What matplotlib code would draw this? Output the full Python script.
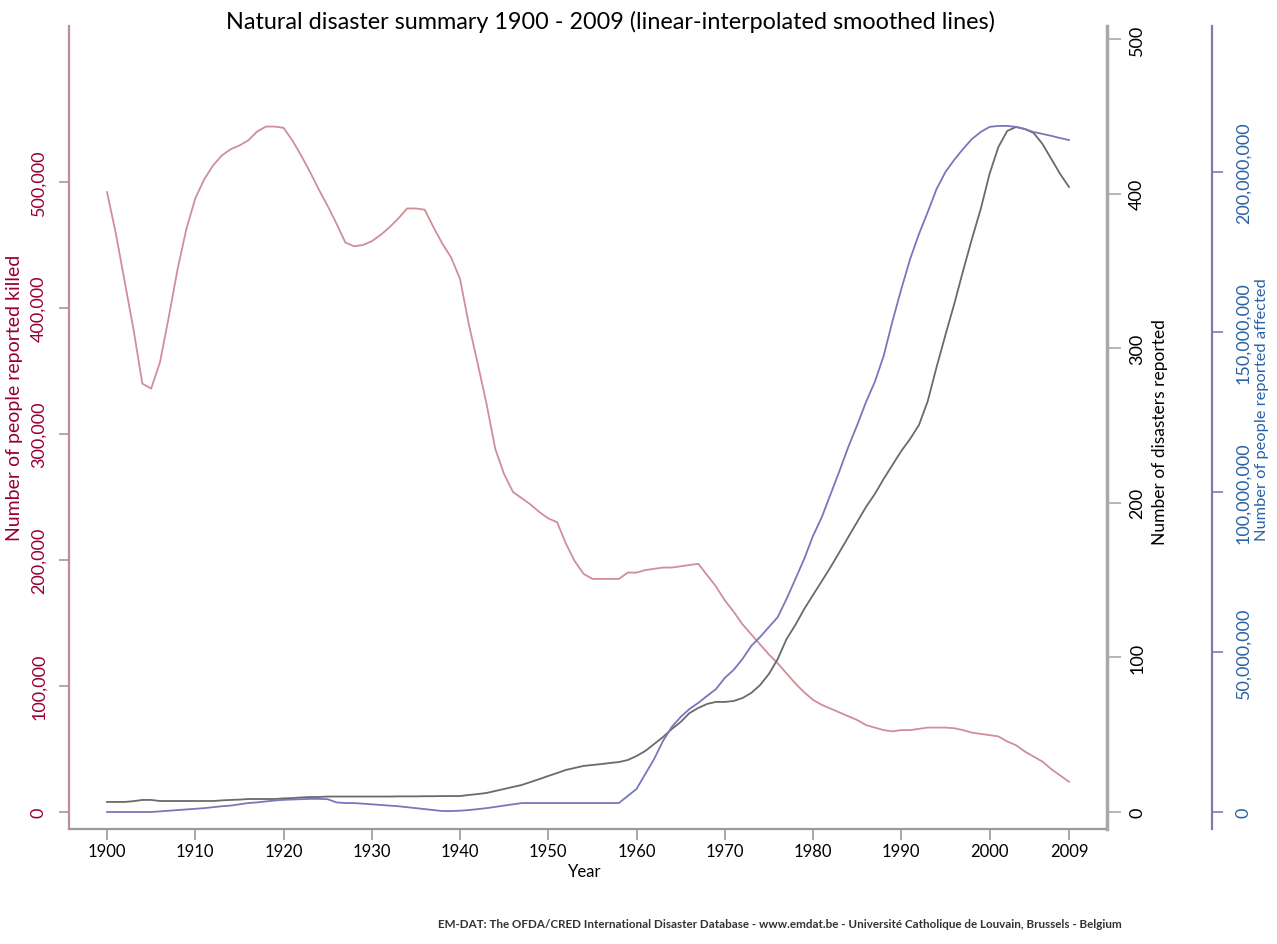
import matplotlib
matplotlib.use("Agg")
import matplotlib.pyplot as plt
from matplotlib.ticker import FuncFormatter, FixedLocator

plt.rcParams['font.family'] = ['Lato', 'DejaVu Sans']

# ---------------- data ----------------
years = list(range(1900, 2010))

killed = [
    492000, 459000, 421000, 383000, 340000, 336000, 357000, 393000, 431000, 463000,   # 1900-1909
    487000, 502000, 513000, 521000, 526000, 529000, 533000, 540000, 544000, 544000,   # 1910-1919
    543000, 533000, 521000, 508000, 494000, 481000, 467000, 452000, 449000, 450000,   # 1920-1929
    453000, 458000, 464000, 471000, 479000, 479000, 478000, 464000, 451000, 440000,   # 1930-1939
    423000, 387000, 356000, 324000, 288000, 268000, 254000, 249000, 244000, 238000,   # 1940-1949
    233000, 230000, 213000, 199000, 189000, 185000, 185000, 185000, 185000, 190000,   # 1950-1959
    190000, 192000, 193000, 194000, 194000, 195000, 196000, 197000, 188000, 179000,   # 1960-1969
    168000, 159000, 149000, 141000, 133000, 125000, 118000, 110000, 102000, 95000,    # 1970-1979
    89000, 85000, 82000, 79000, 76000, 73000, 69000, 67000, 65000, 64000,             # 1980-1989
    65000, 65000, 66000, 67000, 67000, 67000, 66500, 65000, 63000, 62000,             # 1990-1999
    61000, 60000, 56000, 53000, 48000, 44000, 40000, 34000, 29000, 24000,             # 2000-2009
]

disasters = [
    6.5, 6.5, 6.5, 7.0, 7.8, 7.8, 7.1, 7.1, 7.1, 7.1,            # 1900-1909
    7.1, 7.1, 7.1, 7.5, 7.8, 8.0, 8.4, 8.4, 8.4, 8.4,            # 1910-1919
    8.8, 9.0, 9.4, 9.7, 9.7, 10.0, 10.0, 10.0, 10.0, 10.0,       # 1920-1929
    10.0, 10.0, 10.0, 10.1, 10.1, 10.1, 10.2, 10.2, 10.3, 10.3,  # 1930-1939
    10.3, 11.0, 11.6, 12.3, 13.6, 14.9, 16.2, 17.5, 19.4, 21.3,  # 1940-1949
    23.3, 25.2, 27.2, 28.5, 29.8, 30.4, 31.0, 31.7, 32.3, 33.6,  # 1950-1959
    36.2, 39.5, 44.0, 48.5, 53.7, 58.2, 64.0, 67.3, 69.9, 71.2,  # 1960-1969
    71.2, 71.8, 73.7, 77.0, 82.1, 89.3, 99.0, 111.9, 121.0, 131.3,   # 1970-1979
    140.4, 149.4, 158.5, 168.2, 177.9, 187.6, 197.3, 205.7, 215.4, 224.5,  # 1980-1989
    233.5, 241.3, 250.3, 265.8, 287.8, 308.5, 328.6, 350.0, 370.6, 390.0,  # 1990-1999
    412.7, 430.1, 440.5, 443.1, 441.8, 439.2, 432.1, 422.4, 412.7, 404.3,  # 2000-2009
]

affected_millions = [
    0.0, 0.0, 0.0, 0.0, 0.0, 0.0, 0.2, 0.4, 0.6, 0.8,            # 1900-1909
    1.0, 1.2, 1.5, 1.8, 2.0, 2.4, 2.8, 3.0, 3.3, 3.6,            # 1910-1919
    3.8, 3.9, 4.0, 4.1, 4.1, 4.0, 3.0, 2.8, 2.8, 2.6,            # 1920-1929
    2.4, 2.2, 2.0, 1.8, 1.5, 1.2, 0.9, 0.6, 0.3, 0.3,            # 1930-1939
    0.4, 0.6, 0.9, 1.2, 1.6, 2.0, 2.4, 2.8, 2.8, 2.8,            # 1940-1949
    2.8, 2.8, 2.8, 2.8, 2.8, 2.8, 2.8, 2.8, 2.8, 5.0,            # 1950-1959
    7.2, 11.9, 16.6, 22.2, 26.6, 29.7, 32.2, 34.1, 36.3, 38.4,   # 1960-1969
    41.9, 44.4, 47.8, 51.9, 54.7, 57.8, 60.9, 66.6, 72.8, 79.1,  # 1970-1979
    86.3, 92.2, 99.4, 106.6, 114.1, 120.9, 128.1, 134.4, 142.5, 153.4,   # 1980-1989
    163.4, 172.8, 180.6, 187.5, 194.7, 200.0, 203.8, 207.2, 210.3, 212.5,  # 1990-1999
    214.1, 214.4, 214.4, 214.1, 213.4, 212.5, 211.9, 211.3, 210.6, 210.0,  # 2000-2009
]
affected = [v * 1e6 for v in affected_millions]

year_ticks = [1900, 1910, 1920, 1930, 1940, 1950, 1960, 1970, 1980, 1990, 2000, 2009]
killed_ticks = [0, 100000, 200000, 300000, 400000, 500000]
disaster_ticks = [0, 100, 200, 300, 400, 500]
affected_ticks = [0, 50e6, 100e6, 150e6, 200e6]

title = "Natural disaster summary 1900 - 2009 (linear-interpolated smoothed lines)"
credit = ("EM-DAT: The OFDA/CRED International Disaster Database - www.emdat.be - "
          "Université Catholique de Louvain, Brussels - Belgium")

# ---------------- styling ----------------
W, H = 1277, 945
C_KILLED_LINE = '#d08e99'
C_KILLED_TXT = '#990033'
C_LEFT_SPINE = '#b98f98'
C_DIS_LINE = '#6a6a6a'
C_DIS_SPINE = '#a8a8a8'
C_AFF_LINE = '#7777bb'
C_AFF_SPINE = '#7c7ab0'
C_AFF_TXT = '#2a62a6'

fig = plt.figure(figsize=(W / 100, H / 100), dpi=100)
L, R, T, B = 69, 1107, 27, 830
ax = fig.add_axes([L / W, 1 - B / H, (R - L) / W, (B - T) / H])
ax2 = ax.twinx()
ax3 = ax.twinx()

fmt = FuncFormatter(lambda v, p: f"{v:,.0f}")

# main axis (killed)
ax.plot(years, killed, color=C_KILLED_LINE, lw=1.3, zorder=2)
ax.set_xlim(1895.69, 2013.31)
ax.set_ylim(-13492, 623810)
ax.yaxis.set_major_locator(FixedLocator(killed_ticks))
ax.yaxis.set_major_formatter(fmt)
ax.xaxis.set_major_locator(FixedLocator(year_ticks))
for s in ['top', 'right']:
    ax.spines[s].set_visible(False)
ax.spines['left'].set_color(C_LEFT_SPINE)
ax.spines['left'].set_linewidth(1.6)
ax.spines['bottom'].set_color('#9a9a9a')
ax.spines['bottom'].set_linewidth(1.6)
ax.tick_params(axis='y', direction='out', length=7, width=1.2, color=C_LEFT_SPINE,
               labelcolor=C_KILLED_TXT, labelsize=13, labelrotation=90, pad=9)
for lab in ax.get_yticklabels():
    lab.set_va('center')
ax.tick_params(axis='x', direction='out', length=8, width=1.2, color='#9a9a9a',
               labelcolor='black', labelsize=12, pad=2)

# disasters axis
ax2.plot(years, disasters, color=C_DIS_LINE, lw=1.3, zorder=3)
ax2.set_ylim(-11.0, 508.4)
ax2.yaxis.set_major_locator(FixedLocator(disaster_ticks))
for s in ['top', 'left', 'bottom']:
    ax2.spines[s].set_visible(False)
ax2.spines['right'].set_color(C_DIS_SPINE)
ax2.spines['right'].set_linewidth(2.5)
ax2.tick_params(axis='y', direction='out', length=10, width=1.2, color=C_DIS_SPINE,
                labelcolor='black', labelsize=13, labelrotation=90, pad=6)
for lab in ax2.get_yticklabels():
    lab.set_va('center')

# affected axis
ax3.plot(years, affected, color=C_AFF_LINE, lw=1.3, zorder=3)
ax3.set_ylim(-5.3125e6, 245.625e6)
ax3.yaxis.set_major_locator(FixedLocator(affected_ticks))
ax3.yaxis.set_major_formatter(fmt)
ax3.spines['right'].set_position(('axes', (1212 - L) / (R - L)))
for s in ['top', 'left', 'bottom']:
    ax3.spines[s].set_visible(False)
ax3.spines['right'].set_color(C_AFF_SPINE)
ax3.spines['right'].set_linewidth(1.6)
ax3.tick_params(axis='y', direction='out', length=8, width=1.2, color=C_AFF_SPINE,
                labelcolor=C_AFF_TXT, labelsize=13, labelrotation=90, pad=9)
for lab in ax3.get_yticklabels():
    lab.set_va('center')

# texts
fig.text(610 / W, 1 - 22 / H, title, ha='center', va='center', fontsize=16.8, color='black')
fig.text(15 / W, 1 - 398 / H, "Number of people reported killed", rotation=90,
         ha='center', va='center', fontsize=14, color=C_KILLED_TXT)
fig.text(1160 / W, 1 - 432 / H, "Number of disasters reported", rotation=90,
         ha='center', va='center', fontsize=12.5, color='black')
fig.text(1262 / W, 1 - 410 / H, "Number of people reported affected", rotation=90,
         ha='center', va='center', fontsize=11.8, color=C_AFF_TXT)
fig.text(585 / W, 1 - 872 / H, "Year", ha='center', va='center', fontsize=12, color='black')
fig.text(780 / W, 1 - 925 / H, credit, ha='center', va='center', fontsize=8.4,
         color='#333333', fontweight='bold')

fig.savefig("out.png", dpi=100)
